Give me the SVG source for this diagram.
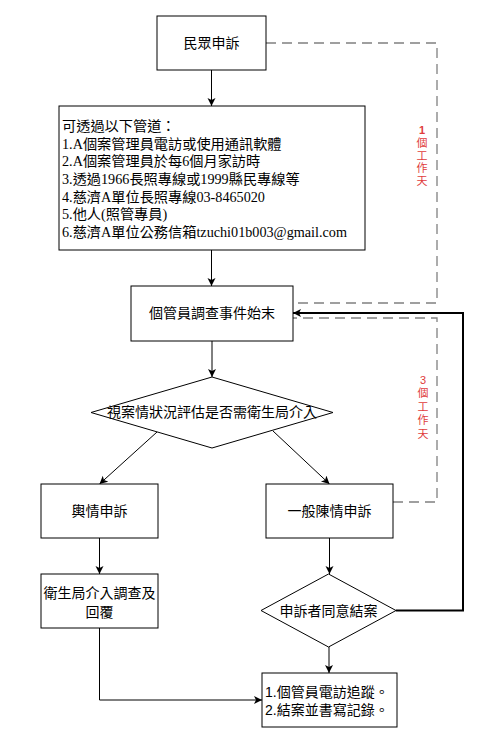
<svg xmlns="http://www.w3.org/2000/svg" width="491" height="745" viewBox="0 0 491 745">
<style>
.box{fill:#fff;stroke:#000;stroke-width:1}
.t{font-family:"Liberation Sans","Noto Sans CJK TC",sans-serif;font-size:14px;fill:#000;text-anchor:middle}
.tl{font-family:"Liberation Serif","Noto Sans CJK TC",serif;font-size:14.2px;fill:#000}
.tf{font-family:"Liberation Sans","Noto Sans CJK TC",sans-serif;font-size:14px;fill:#000}
.c{fill:none;stroke:#000;stroke-width:1}
.thick{fill:none;stroke:#000;stroke-width:2}
.dash{fill:none;stroke:#808080;stroke-width:1.3;stroke-dasharray:10 6}
.lab{font-family:"Liberation Sans","Noto Sans CJK TC",sans-serif;font-size:11px;fill:#e03c3c;text-anchor:middle}
</style>
<defs>
<marker id="arr" markerUnits="userSpaceOnUse" markerWidth="10" markerHeight="10" refX="8" refY="4" orient="auto" viewBox="0 0 10 10">
<path d="M0,0 L8,4 L0,8 L2,4 z" fill="#000"/>
</marker>
</defs>
<g id="connectors">
<path class="c" d="M211.5,70 V106" marker-end="url(#arr)"/>
<path class="c" d="M211.5,250 V286" marker-end="url(#arr)"/>
<path class="c" d="M212,341 V377" marker-end="url(#arr)"/>
<path class="c" d="M157,432 L99.5,484" marker-end="url(#arr)"/>
<path class="c" d="M273,431 L329.5,484" marker-end="url(#arr)"/>
<path class="c" d="M99.5,538 V574" marker-end="url(#arr)"/>
<path class="c" d="M329.5,538 V574" marker-end="url(#arr)"/>
<path class="c" d="M329,647 V673" marker-end="url(#arr)"/>
<path class="c" d="M99.5,628 V700 H262" marker-end="url(#arr)"/>
<path class="thick" d="M396,610.5 H463 V313 H293" marker-end="url(#arr)"/>
<path class="dash" d="M266,43 H437 V303 H293"/>
<path class="dash" d="M393,502 H437 V318 H293"/>
<text class="lab"><tspan x="422" y="134" font-weight="bold">1</tspan><tspan x="422" y="147">個</tspan><tspan x="422" y="160">工</tspan><tspan x="422" y="172">作</tspan><tspan x="422" y="185">天</tspan></text>
<text class="lab"><tspan x="423" y="384">3</tspan><tspan x="423" y="397">個</tspan><tspan x="423" y="411">工</tspan><tspan x="423" y="424">作</tspan><tspan x="423" y="438">天</tspan></text>
</g>
<g id="n1">
<rect class="box" x="157" y="16" width="109" height="54"/>
<text class="t" x="211.5" y="48">民眾申訴</text>
</g>
<g id="n2">
<rect class="box" x="59" y="106" width="306" height="144"/>
<text class="tl" x="62" y="131">可透過以下管道：</text>
<text class="tl" x="62" y="149">1.A個案管理員電訪或使用通訊軟體</text>
<text class="tl" x="62" y="166">2.A個案管理員於每6個月家訪時</text>
<text class="tl" x="62" y="184">3.透過1966長照專線或1999縣民專線等</text>
<text class="tl" x="62" y="202">4.慈濟A單位長照專線03-8465020</text>
<text class="tl" x="62" y="219">5.他人(照管專員)</text>
<text class="tl" x="62" y="237">6.慈濟A單位公務信箱tzuchi01b003@gmail.com</text>
</g>
<g id="n3">
<rect class="box" x="131" y="286" width="162" height="55"/>
<text class="t" x="212" y="318">個管員調查事件始末</text>
</g>
<g id="d1">
<polygon class="box" points="212,377 333,412.5 212,448 91,412.5"/>
<text class="t" x="212" y="417">視案情狀況評估是否需衛生局介入</text>
</g>
<g id="n4">
<rect class="box" x="41" y="484" width="117" height="54"/>
<text class="t" x="99.5" y="516">輿情申訴</text>
</g>
<g id="n5">
<rect class="box" x="266" y="484" width="127" height="54"/>
<text class="t" x="329.5" y="516">一般陳情申訴</text>
</g>
<g id="n6">
<rect class="box" x="41" y="574" width="117" height="54"/>
<text class="t" x="99.5" y="598" font-size="14.5">衛生局介入調查及</text>
<text class="t" x="99.5" y="617" font-size="14.5">回覆</text>
</g>
<g id="d2">
<polygon class="box" points="328.5,574 396,610.5 328.5,647 261,610.5"/>
<text class="t" x="328.5" y="615.5">申訴者同意結案</text>
</g>
<g id="n7">
<rect class="box" x="262" y="673" width="135" height="54"/>
<text class="tf" x="265" y="697">1.個管員電訪追蹤。</text>
<text class="tf" x="265" y="715">2.結案並書寫記錄。</text>
</g>
</svg>
